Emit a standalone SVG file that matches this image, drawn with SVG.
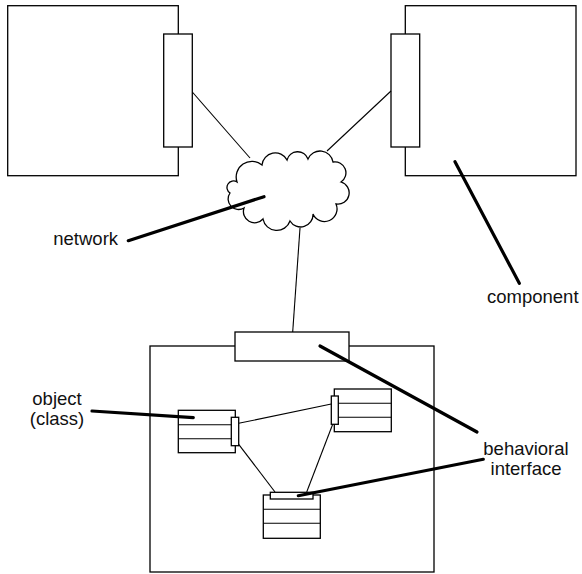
<svg xmlns="http://www.w3.org/2000/svg" width="582" height="574" viewBox="0 0 582 574">
<style>
.b{fill:#fff;stroke:#000;stroke-width:1.3}
.c{fill:none;stroke:#000;stroke-width:1.1}
.p{fill:none;stroke:#000;stroke-width:3.2;stroke-linecap:round}
.t{font-family:"Liberation Sans",Arial,sans-serif;font-size:18.5px;fill:#111}
</style>
<rect width="582" height="574" fill="#fff"/>
<g id="componentLeft">
<rect class="b" x="7.7" y="5.7" width="170.6" height="170"/>
<rect class="b" x="163.7" y="34" width="28.6" height="113"/>
</g>
<g id="componentRight">
<rect class="b" x="405.3" y="5.7" width="170.7" height="170"/>
<rect class="b" x="391" y="34" width="28.7" height="113"/>
</g>
<g id="network">
<path class="b" d="M237,182 A15.7,15.7 0 0 1 262,165 A13.3,13.3 0 0 1 287,160 A11,11 0 0 1 308,159 A13.1,13.1 0 0 1 333,162 A11,11 0 0 1 341,182 A11.3,11.3 0 0 1 336,204 A11.7,11.7 0 0 1 313,214 A12.4,12.4 0 0 1 290,221 A14,14 0 0 1 263,219 A11.2,11.2 0 0 1 244,208 A10.5,10.5 0 0 1 230,193 A6,6 0 0 1 237,182 Z"/>
</g>
<g id="componentBottom">
<rect class="b" x="150" y="346" width="284" height="226"/>
<rect class="b" x="235" y="332" width="114" height="29"/>
</g>
<g id="connectors">
<line class="c" x1="192.3" y1="92" x2="250" y2="158"/>
<line class="c" x1="391" y1="91" x2="327" y2="151"/>
<line class="c" x1="300" y1="228" x2="292.7" y2="332"/>
<line class="c" x1="238.7" y1="423.3" x2="331.3" y2="404"/>
<line class="c" x1="238.7" y1="444.3" x2="275" y2="492"/>
<line class="c" x1="332.7" y1="424.3" x2="306.7" y2="492"/>
</g>
<g id="objectLeft">
<rect class="b" x="178.3" y="410.3" width="57" height="42.4"/>
<line class="c" x1="178.3" y1="424.7" x2="235.3" y2="424.7"/>
<line class="c" x1="178.3" y1="438.7" x2="235.3" y2="438.7"/>
<rect class="b" x="231.3" y="417.3" width="7.4" height="28.4"/>
</g>
<g id="objectRight">
<rect class="b" x="334.3" y="389" width="57" height="42.7"/>
<line class="c" x1="334.3" y1="403.3" x2="391.3" y2="403.3"/>
<line class="c" x1="334.3" y1="417.3" x2="391.3" y2="417.3"/>
<rect class="b" x="331.3" y="396" width="7" height="28.3"/>
</g>
<g id="objectBottom">
<rect class="b" x="263.3" y="495" width="57" height="43.3"/>
<line class="c" x1="263.3" y1="509.3" x2="320.3" y2="509.3"/>
<line class="c" x1="263.3" y1="523.3" x2="320.3" y2="523.3"/>
<rect class="b" x="270.3" y="492.3" width="42.7" height="6.7"/>
</g>
<g id="labels">
<line class="p" x1="128.3" y1="240.7" x2="264" y2="196.7"/>
<line class="p" x1="455" y1="161.7" x2="519.3" y2="283.3"/>
<line class="p" x1="92" y1="411" x2="193.3" y2="417.7"/>
<line class="p" x1="320" y1="346" x2="477" y2="432"/>
<line class="p" x1="298.3" y1="495.7" x2="483.3" y2="459.3"/>
<text class="t" x="53.3" y="245">network</text>
<text class="t" x="487" y="303">component</text>
<text class="t" x="57" y="405" text-anchor="middle">object</text>
<text class="t" x="57" y="425" text-anchor="middle">(class)</text>
<text class="t" x="526" y="455" text-anchor="middle">behavioral</text>
<text class="t" x="526" y="475" text-anchor="middle">interface</text>
</g>
</svg>
